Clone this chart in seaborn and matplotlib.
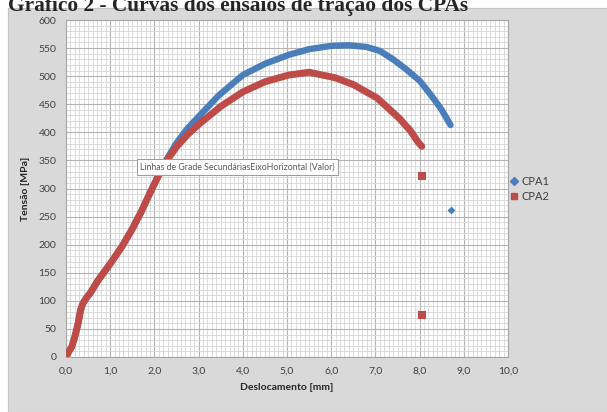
import pandas as pd
import numpy as np
import matplotlib.pyplot as plt
import seaborn as sns
from matplotlib.lines import Line2D
from matplotlib.ticker import MultipleLocator, FuncFormatter

# values
cpa1_x = [0.0, 0.05, 0.13, 0.2, 0.28, 0.33, 0.38, 0.45, 0.55, 0.73, 1.0, 1.26, 1.5, 1.71,
          1.9, 2.1, 2.3, 2.5, 2.75, 3.0, 3.46, 4.0, 4.5, 5.04, 5.5, 6.0, 6.4, 6.8, 7.1,
          7.4, 7.7, 8.0, 8.3, 8.5, 8.7]
cpa1_y = [0, 8, 18, 36, 62, 84, 95, 104, 114, 137, 166, 196, 228, 260,
          292, 325, 355, 381, 407, 428, 466, 502, 522, 538, 548, 554, 555, 552, 545,
          530, 512, 492, 462, 440, 413]
cpa2_x = [0.0, 0.05, 0.13, 0.2, 0.28, 0.33, 0.38, 0.45, 0.55, 0.73, 1.0, 1.26, 1.5, 1.71,
          1.9, 2.1, 2.3, 2.5, 2.75, 3.0, 3.5, 4.0, 4.5, 5.04, 5.5, 6.1, 6.5, 7.04, 7.54,
          7.8, 7.96, 8.05]
cpa2_y = [0, 8, 18, 36, 62, 84, 95, 104, 114, 137, 166, 196, 228, 260,
          292, 324, 352, 374, 396, 414, 446, 472, 490, 502, 507, 497, 485, 461, 425,
          402, 383, 375]
cpa1_pts_x = [8.7]
cpa1_pts_y = [262]
cpa2_pts_x = [8.05, 8.05]
cpa2_pts_y = [322, 75]

series = ["CPA1", "CPA2"]
colors = {"CPA1": "#4a7ebb", "CPA2": "#be4b48"}

curves = pd.concat([
    pd.DataFrame({"x": cpa1_x, "y": cpa1_y, "serie": "CPA1"}),
    pd.DataFrame({"x": cpa2_x, "y": cpa2_y, "serie": "CPA2"}),
])
points = pd.concat([
    pd.DataFrame({"x": cpa1_pts_x, "y": cpa1_pts_y, "serie": "CPA1"}),
    pd.DataFrame({"x": cpa2_pts_x, "y": cpa2_pts_y, "serie": "CPA2"}),
])

sns.set_style("white")
plt.rcParams['font.family'] = ['Lato', 'DejaVu Sans']

fig = plt.figure(figsize=(6.07, 4.12), dpi=100, facecolor="white")
# grey chart area like Excel
bg = fig.add_axes([8 / 607, 0, 1, 1 - 8 / 412], zorder=-5)
bg.set_facecolor("#d9d9d9")
bg.set_xticks([])
bg.set_yticks([])
for s in bg.spines.values():
    s.set_color("#c4c4c4")

ax = fig.add_axes([66 / 607, 1 - 357 / 412, (508 - 66) / 607, (357 - 20) / 412])
ax.set_facecolor("white")

fig.text(8 / 607, 1 - 11 / 412, "Gráfico 2 - Curvas dos ensaios de tração dos CPAs",
         family="Liberation Serif", fontweight="bold", fontsize=15.4, va="baseline", ha="left")

sns.lineplot(data=curves[curves.serie == "CPA1"], x="x", y="y", color=colors["CPA1"],
             sort=False, estimator=None, lw=4.6, solid_capstyle="round",
             solid_joinstyle="round", ax=ax, zorder=3)
sns.lineplot(data=curves[curves.serie == "CPA2"], x="x", y="y", color=colors["CPA2"],
             sort=False, estimator=None, lw=5, solid_capstyle="round",
             solid_joinstyle="round", ax=ax, zorder=4)
sns.scatterplot(data=points[points.serie == "CPA1"], x="x", y="y", color=colors["CPA1"],
                marker="D", s=16, linewidth=0, ax=ax, zorder=5)
sns.scatterplot(data=points[points.serie == "CPA2"], x="x", y="y", color=colors["CPA2"],
                marker="s", s=30, linewidth=0, ax=ax, zorder=5)

ax.set_xlim(0, 10)
ax.set_ylim(0, 600)
ax.xaxis.set_major_locator(MultipleLocator(1))
ax.xaxis.set_minor_locator(MultipleLocator(0.1))
ax.yaxis.set_major_locator(MultipleLocator(50))
ax.yaxis.set_minor_locator(MultipleLocator(10))
ax.xaxis.set_major_formatter(FuncFormatter(lambda v, p: f"{v:.1f}".replace(".", ",")))
ax.grid(which="major", color="#b3b3b3", lw=0.8)
ax.grid(which="minor", color="#d6d6d6", lw=0.6)
ax.set_axisbelow(True)
for s in ax.spines.values():
    s.set_color("#a6a6a6")
    s.set_linewidth(0.8)
ax.tick_params(axis="both", which="major", length=3, color="#a6a6a6",
               labelsize=7.5, labelcolor="#404040", pad=4)
ax.tick_params(which="minor", length=0)
ax.set_xlabel("Deslocamento [mm]", fontsize=7.5, fontweight="bold", color="#262626", labelpad=5)
ax.set_ylabel("Tensão [MPa]", fontsize=7.5, fontweight="bold", color="#262626", labelpad=6)

ax.text(1.68, 339, "Linhas de Grade SecundáriasEixoHorizontal (Valor)", fontsize=6.3,
        color="#595959", va="center", ha="left", zorder=6,
        bbox=dict(boxstyle="square,pad=0.4", fc="white", ec="#9a9a9a", lw=0.7))

handles = [Line2D([], [], ls="", marker="D", ms=4, color=colors["CPA1"]),
           Line2D([], [], ls="", marker="s", ms=5, color=colors["CPA2"])]
fig.legend(handles, series, loc="center left", bbox_to_anchor=(498 / 607, 1 - 189 / 412),
           frameon=False, fontsize=8, handletextpad=0.2, labelspacing=0.3,
           handlelength=1, labelcolor="#404040")

fig.savefig("out.png", dpi=100, facecolor="white")
